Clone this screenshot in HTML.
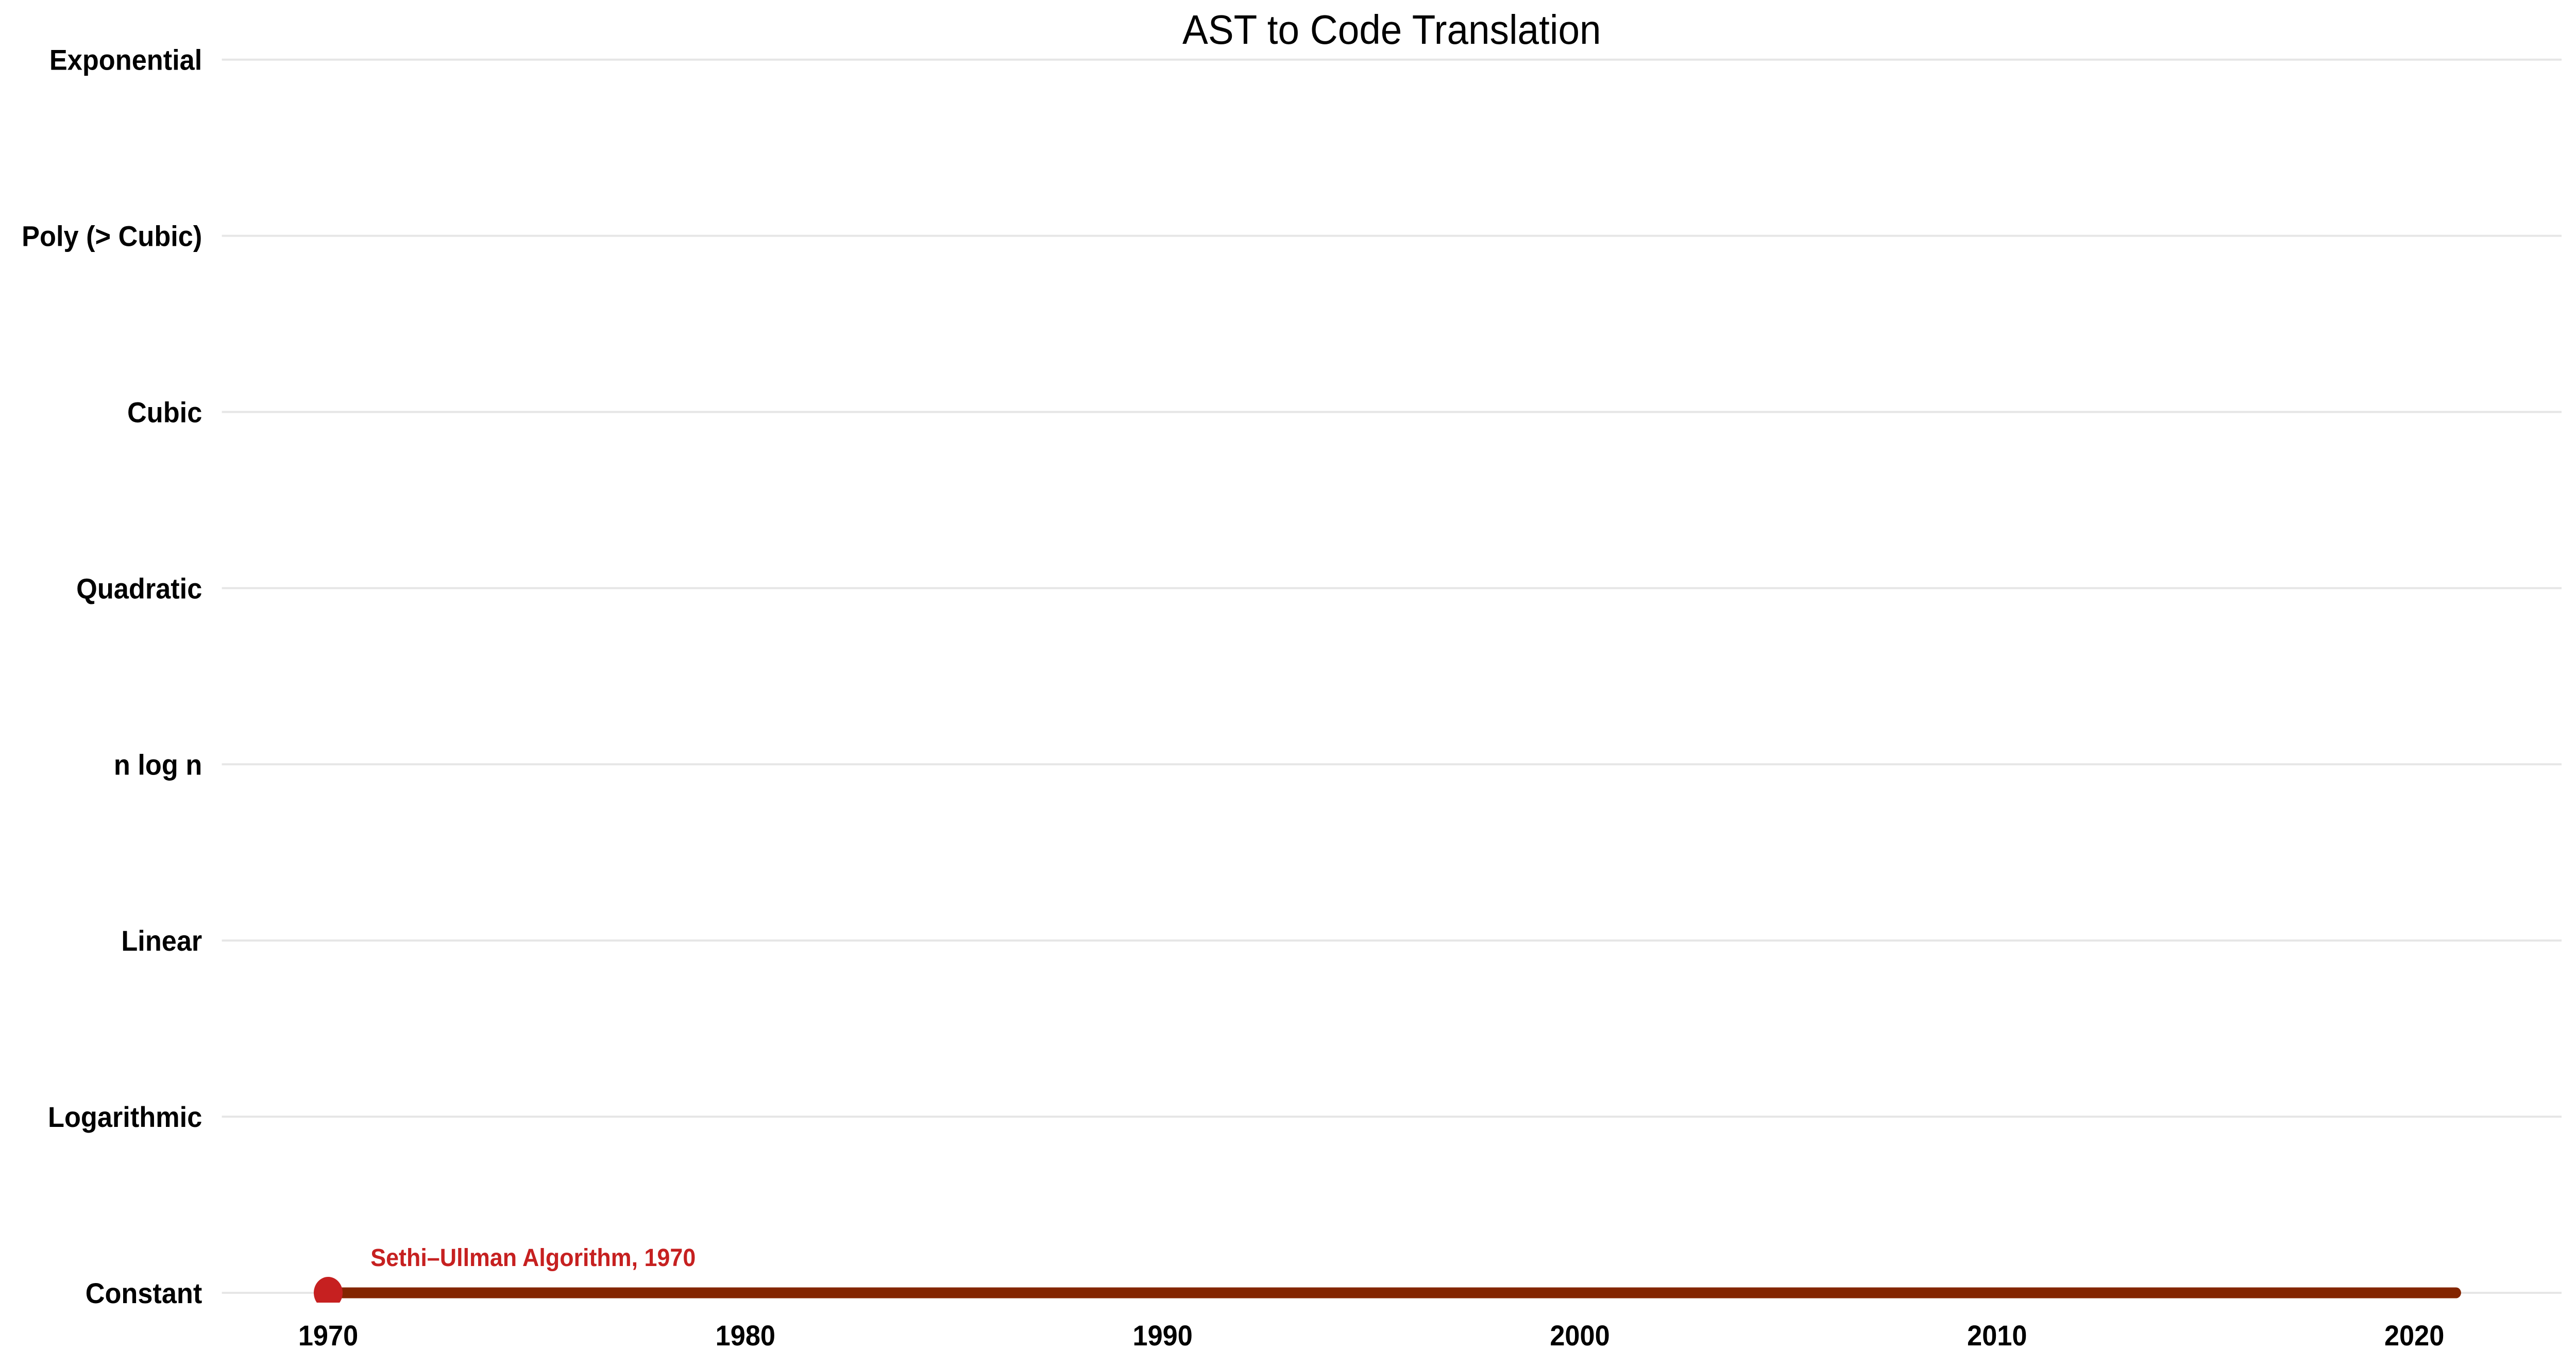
<!DOCTYPE html>
<html><head><meta charset="utf-8"><style>
html,body{margin:0;padding:0;background:#fff;width:100%;height:100%;overflow:hidden;}
svg{display:block;width:100vw;height:100vh;font-family:"Liberation Sans",Arial,sans-serif;}
</style></head><body>
<svg id="chart" viewBox="0 0 5353 2651" preserveAspectRatio="none" xmlns="http://www.w3.org/2000/svg">
<text x="2892" y="85" font-size="80" text-anchor="middle" fill="#000">AST to Code Translation</text>
<g id="grid"></g><g id="ylabels"></g><g id="xlabels"></g><g id="marks"></g>
</svg>
<script>
const categories = ["Constant","Logarithmic","Linear","n log n","Quadratic","Cubic","Poly (> Cubic)","Exponential"];
const xTicks = [1970,1980,1990,2000,2010,2020];
const algNames = ["Sethi\u2013Ullman Algorithm"];
const algYears = [1970];
const algLevels = [0];
const lineEndYear = 2021;

const NS="http://www.w3.org/2000/svg";
function xScale(y){return 682 + (y-1970)*86.7;}
function yScale(i){return 2509 - i*341.9;}
function mk(tag,attrs,parent){const e=document.createElementNS(NS,tag);for(const k in attrs)e.setAttribute(k,attrs[k]);parent.appendChild(e);return e;}
const grid=document.getElementById('grid'),yl=document.getElementById('ylabels'),xl=document.getElementById('xlabels'),marks=document.getElementById('marks');
categories.forEach((c,i)=>{
  const l=mk('line',{x1:461,x2:5323,y1:yScale(i),y2:yScale(i),stroke:'#e6e6e6','stroke-width':4},grid);
  
  
  const t=mk('text',{x:420,y:yScale(i)+20,'font-size':56,'font-weight':'bold','text-anchor':'end',fill:'#000'},yl);
  t.textContent=c;
  
  
});
xTicks.forEach(v=>{
  const t=mk('text',{x:xScale(v),y:2611,'font-size':56,'font-weight':'bold','text-anchor':'middle',fill:'#000'},xl);
  t.textContent=v;
  
  
});
algYears.forEach((yr,i)=>{
  const y=yScale(algLevels[i]);
  const ln=mk('line',{x1:xScale(yr),x2:xScale(lineEndYear),y1:y,y2:y,stroke:'#832500','stroke-width':21,'stroke-linecap':'round'},marks);
  
  
  const cp=mk('clipPath',{id:'clip'+i},marks);
  mk('rect',{x:xScale(yr)-50,y:y-50,width:100,height:69},cp);
  const c=mk('ellipse',{cx:xScale(yr),cy:y,rx:30,ry:31,fill:'#c62020','clip-path':'url(#clip'+i+')'},marks);
  
  
  const t=mk('text',{x:xScale(yr)+88,y:y-52,'font-size':48,'font-weight':'bold',fill:'#c62020'},marks);
  t.textContent=algNames[i]+', '+yr;
  
  
});
</script>
</body></html>
